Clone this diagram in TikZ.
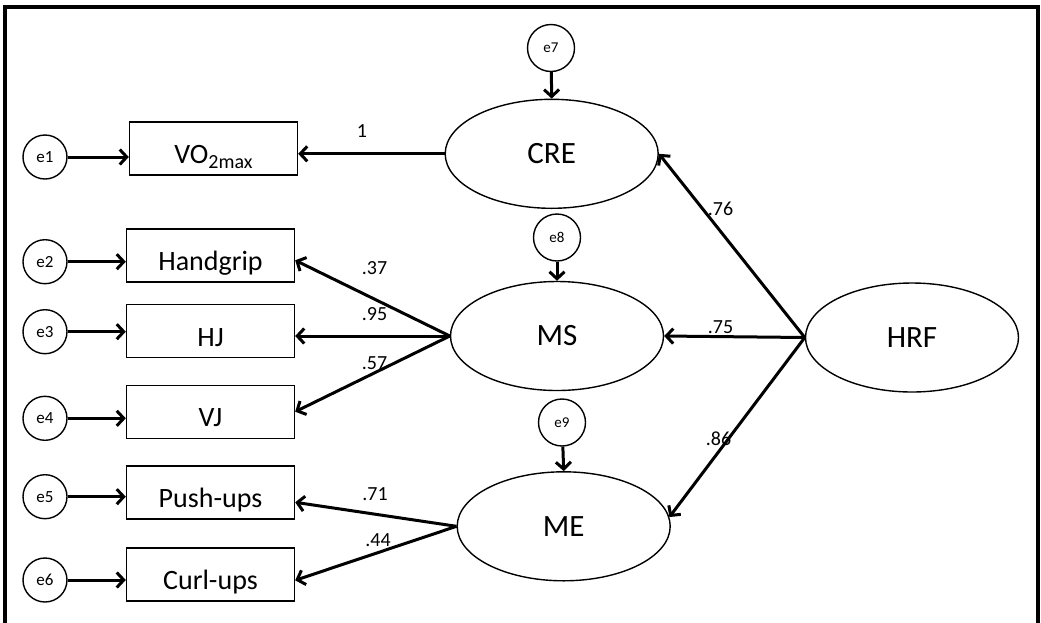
\documentclass[tikz,border=0pt]{standalone}
\usepackage{fontspec}
\setmainfont{Carlito}
\usetikzlibrary{arrows.meta,shapes.geometric}

\tikzset{
	obs/.style={draw, line width=1.4pt, minimum width=168pt, minimum height=53pt, inner sep=0pt, text height=31pt, text depth=1pt, font=\fontsize{28}{28}\selectfont},
	lat/.style={draw, ellipse, line width=1.4pt, minimum width=213pt, minimum height=109pt, inner sep=0pt, font=\fontsize{31}{31}\selectfont},
	err/.style={draw, circle, line width=1.4pt, minimum size=44pt, inner sep=0pt, font=\fontsize{17}{17}\selectfont},
	errtop/.style={err, minimum size=47pt, font=\fontsize{15}{15}\selectfont},
	load/.style={line width=3pt, -{Straight Barb[length=7pt,width=15pt]}},
	coef/.style={inner sep=0pt, font=\fontsize{20}{20}\selectfont}
}

\begin{document}
	\begin{tikzpicture}[x=1pt,y=-1pt]
		\useasboundingbox (0,0) rectangle (1041,622);
		% Frame
		\draw[line width=4pt] (5.3,700) -- (5.3,7) -- (1037.5,7) -- (1037.5,700);

		% Observed variables
		\node[obs] (vo) at (213.5,148.5) {VO\raisebox{-0.35ex}{\fontsize{20}{20}\selectfont 2max}};
		\node[obs] (hg) at (210.5,255.3) {Handgrip};
		\node[obs] (hj) at (210.5,331) {HJ};
		\node[obs] (vj) at (210.5,411.7) {VJ};
		\node[obs] (pu) at (210.5,492.3) {Push-ups};
		\node[obs] (cu) at (210.5,574.3) {Curl-ups};

		% Error terms
		\node[err] (e1) at (45,157) {e1};
		\node[err] (e2) at (45,261.7) {e2};
		\node[err] (e3) at (45,331.7) {e3};
		\node[err] (e4) at (45,418.3) {e4};
		\node[err] (e5) at (45,496.7) {e5};
		\node[err] (e6) at (45,580) {e6};
		\node[errtop] (e7) at (551,48) {e7};
		\node[errtop] (e8) at (557,237.5) {e8};
		\node[errtop] (e9) at (562,422.5) {e9};

		% Latent factors
		\node[lat] (cre) at (551.7,153.8) {CRE};
		\node[lat] (ms) at (557,336) {MS};
		\node[lat] (me) at (563.7,526.3) {ME};
		\node[lat] (hrf) at (912,337.5) {HRF};

		% Errors to indicators
		\foreach \e/\v in {e1/vo, e2/hg, e3/hj, e4/vj, e5/pu, e6/cu}
			\draw[load] (\e) -- (\e -| \v.west);
		\foreach \e/\v in {e7/cre, e8/ms, e9/me}
			\draw[load] (\e) -- (\v.north);

		% Factor loadings
		\draw[load] (cre.west) -- (cre.west -| vo.east);
		\draw[load] (ms.west) -- ([yshift=-5pt]hg.east);
		\draw[load] (ms.west) -- (ms.west -| hj.east);
		\draw[load] (ms.west) -- (vj.east);
		\draw[load] (me.west) -- ([yshift=-10pt]pu.east);
		\draw[load] (me.west) -- ([yshift=-6pt]cu.east);
		\draw[load] (hrf.west) -- (cre.east);
		\draw[load] (hrf.west) -- (ms.east);
		\draw[load] (hrf.west) -- (me.5);

		% Coefficients
		\node[coef] (c1) at (362,131) {1};
		\node[coef] (c37) at (374.5,268) {.37};
		\node[coef] (c95) at (374.5,314.5) {.95};
		\node[coef] (c57) at (374.5,363) {.57};
		\node[coef] (c71) at (375,494) {.71};
		\node[coef] (c44) at (378,540) {.44};
		\node[coef] (c76) at (720.5,209) {.76};
		\node[coef] (c75) at (720.5,327.5) {.75};
		\node[coef] (c86) at (718.5,439) {.86};
	\end{tikzpicture}
\end{document}
